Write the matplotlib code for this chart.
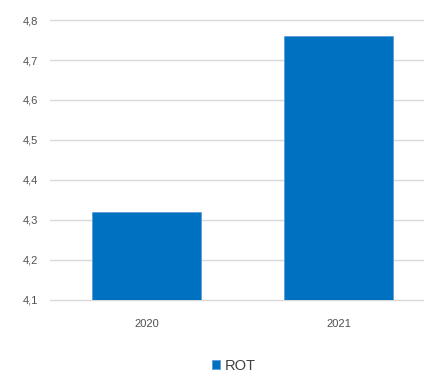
import matplotlib.pyplot as plt
from matplotlib.ticker import FuncFormatter

plt.rcParams['font.family'] = ['Liberation Sans Narrow', 'Liberation Sans', 'DejaVu Sans']

# ROT per year
years = ['2020', '2021']
rot = [4.32, 4.76]
yticks = [4.1, 4.2, 4.3, 4.4, 4.5, 4.6, 4.7, 4.8]

fig = plt.figure(figsize=(4.24, 3.74), dpi=100)
ax = fig.add_axes([0.119, 0.198, 0.881, 0.7485])

x = range(len(years))
ax.bar(x, rot, width=0.57, color='#0070C0', edgecolor='#5a9fd8',
       linewidth=0.6, label='ROT', zorder=3)

ax.set_xlim(-0.5, 1.445)
ax.set_ylim(4.1, 4.8)
ax.set_yticks(yticks)
ax.yaxis.set_major_formatter(FuncFormatter(lambda v, p: f'{v:.1f}'.replace('.', ',')))
ax.set_xticks(list(x))
ax.set_xticklabels(years)

ax.grid(axis='y', color='#d9d9d9', linewidth=1.0, zorder=0)
for gl in ax.get_ygridlines():
    gl.set_clip_on(False)
for s in ax.spines.values():
    s.set_visible(False)
ax.tick_params(axis='both', length=0, labelsize=8, colors='#505050')
ax.tick_params(axis='y', pad=9)
ax.tick_params(axis='x', pad=14)

fig.legend(loc='center', bbox_to_anchor=(0.551, 1 - 366 / 374), frameon=False,
           handlelength=0.55, handleheight=0.55, handletextpad=0.35,
           fontsize=10.5, labelcolor='#404040')

fig.savefig('out.png', dpi=100, facecolor='white')
